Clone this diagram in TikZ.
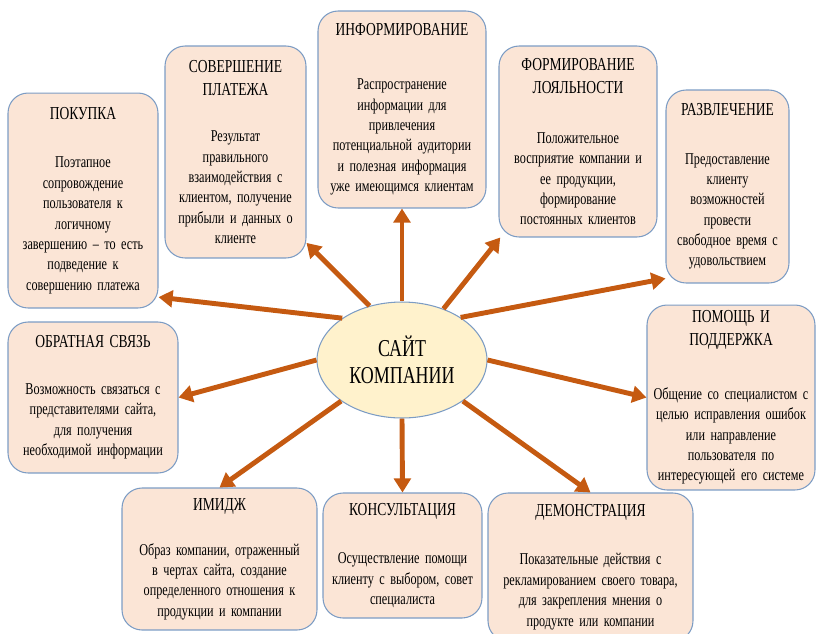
\documentclass[tikz,border=0pt]{standalone}
\usepackage{fontspec}
\setmainfont{Liberation Serif}[FakeStretch=0.74]
\usetikzlibrary{shapes.geometric, arrows.meta}
\definecolor{boxfill}{HTML}{FBE5D6}
\definecolor{boxline}{HTML}{7C9CC4}
\definecolor{sitefill}{HTML}{FFF2CC}
\definecolor{spokecol}{HTML}{C55A11}
\newcommand{\cardhead}[1]{{\fontsize{10.4}{11.6}\selectfont #1}}

\begin{document}
\begin{tikzpicture}[x=0.02cm, y=-0.02cm, >={Triangle[length=8pt,width=9.5pt]},
		font=\fontsize{9.4}{11.6}\selectfont]
		\tikzstyle{card}=[draw=boxline, fill=boxfill, line width=0.6pt, rounded corners=0.4cm, align=center, inner xsep=0pt, inner ysep=2pt]
		\tikzstyle{spoke}=[->, draw=spokecol, line width=2.8pt]
		\useasboundingbox (0,0) rectangle (818,633);
		\clip (0,0) rectangle (818,633);

		% centre
		\node[ellipse, draw=boxline, fill=sitefill, line width=0.6pt, inner sep=0pt,
			minimum width=3.4cm, minimum height=2.32cm, align=center,
			font=\fontsize{13.8}{15.3}\selectfont] (site) at (402,360) {САЙТ\\КОМПАНИИ};

		% top row
		\node[card, text width=3cm, minimum height=4.3cm] (pokupka) at (83,200.5)
			{\cardhead{ПОКУПКА}\\[16pt] Поэтапное\\сопровождение\\пользователя к\\логичному\\завершению – то есть\\подведение к\\совершению платежа};
		\node[card, text width=2.82cm, minimum height=4.24cm] (sovershenie) at (235.5,152)
			{\cardhead{СОВЕРШЕНИЕ}\\[1.4pt]\cardhead{ПЛАТЕЖА}\\[15pt] Результат\\правильного\\взаимодействия с\\клиентом, получение\\прибыли и данных о\\клиенте};
		\node[card, text width=3.36cm, minimum height=3.94cm] (inform) at (402,109.5)
			{\cardhead{ИНФОРМИРОВАНИЕ}\\[19pt] Распространение\\информации для\\привлечения\\потенциальной аудитории\\и полезная информация\\уже имеющимся клиентам};
		\node[card, text width=3.16cm, minimum height=3.82cm] (formir) at (578,141.5)
			{\cardhead{ФОРМИРОВАНИЕ}\\[1.4pt]\cardhead{ЛОЯЛЬНОСТИ}\\[17pt] Положительное\\восприятие компании и\\ее продукции,\\формирование\\постоянных клиентов};
		\node[card, text width=2.46cm, minimum height=3.86cm] (razvl) at (727.5,186.5)
			{\cardhead{РАЗВЛЕЧЕНИЕ}\\[16pt] Предоставление\\клиенту\\возможностей\\провести\\свободное время с\\удовольствием};

		% sides
		\node[card, text width=3.36cm, minimum height=3.7cm] (pomosch) at (731,397.5)
			{\cardhead{ПОМОЩЬ И}\\[1.4pt]\cardhead{ПОДДЕРЖКА}\\[19pt] Общение со специалистом с\\целью исправления ошибок\\или направление\\пользователя по\\интересующей его системе};
		\node[card, text width=3.4cm, minimum height=3.02cm] (obratnaya) at (93,397.5)
			{\cardhead{ОБРАТНАЯ СВЯЗЬ}\\[15pt] Возможность связаться с\\представителями сайта,\\для получения\\необходимой информации};

		% bottom row
		\node[card, text width=3.9cm, minimum height=2.84cm] (imidzh) at (219.5,559)
			{\cardhead{ИМИДЖ}\\[14pt] Образ компании, отраженный\\в чертах сайта, создание\\определенного отношения к\\продукции и компании};
		\node[card, text width=3.18cm, minimum height=2.5cm] (konsult) at (402.5,555.5)
			{\cardhead{КОНСУЛЬТАЦИЯ}\\[16pt] Осуществление помощи\\клиенту с выбором, совет\\специалиста};
		\node[card, text width=4.1cm, minimum height=2.96cm] (demo) at (590.5,567)
			{\cardhead{ДЕМОНСТРАЦИЯ}\\[16pt] Показательные действия с\\рекламированием своего товара,\\для закрепления мнения о\\продукте или компании};

		\draw[spoke] (site.145) -- (pokupka.-52);
		\draw[spoke] (site.121) -- (sovershenie.-52);
		\draw[spoke] (site.north) -- (inform.south);
		\draw[spoke] (site.51) -- (formir.-129);
		\draw[spoke] (site.36) -- (razvl.-124);
		\draw[spoke] (site.east) -- (pomosch.west);
		\draw[spoke] (site.west) -- (obratnaya.east);
		\draw[spoke] (site.214) -- (imidzh.north);
		\draw[spoke] (site.south) -- (konsult.north);
		\draw[spoke] (site.-34) -- (demo.north);
	\end{tikzpicture}
\end{document}
